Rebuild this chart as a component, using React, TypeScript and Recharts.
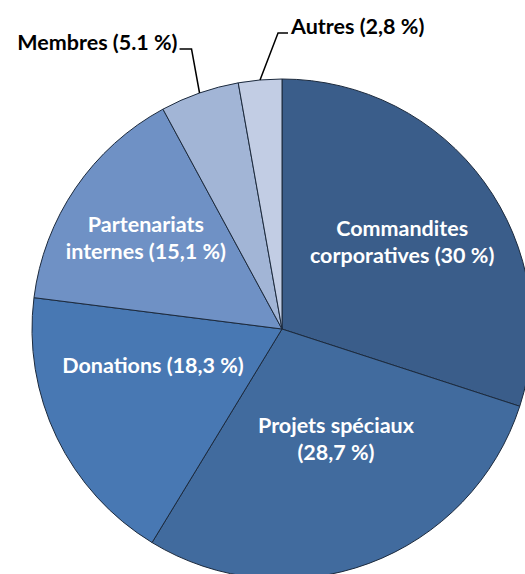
import { PieChart, Pie, Cell } from 'recharts'

const categories = ['Commandites corporatives', 'Projets spéciaux', 'Donations', 'Partenariats internes', 'Membres', 'Autres']
const shares = [30, 28.7, 18.3, 15.1, 5.1, 2.8]
const labelLines = [
  ['Commandites', 'corporatives (30 %)'],
  ['Projets spéciaux', '(28,7 %)'],
  ['Donations (18,3 %)'],
  ['Partenariats', 'internes (15,1 %)'],
  ['Membres (5.1 %)'],
  ['Autres (2,8 %)'],
]

const COLORS = ['#3a5d8a', '#416b9e', '#4878b3', '#6f91c5', '#a2b5d6', '#c2cde4']
const FONT = 'Lato, "Open Sans", sans-serif'
const RAD = Math.PI / 180

// inside labels: radius fraction + angle nudge (deg); outside: elbow offset + tail length
const inside: Record<number, { rf: number; da: number }> = {
  0: { rf: 0.594, da: 0 },
  1: { rf: 0.49, da: 5.8 },
  2: { rf: 0.536, da: -10 },
  3: { rf: 0.656, da: 0.5 },
}
const outside: Record<number, { ex: number; ey: number; tail: number }> = {
  4: { ex: -8, ey: -44, tail: -12 },
  5: { ex: 18, ey: -47, tail: 10 },
}

const data = categories.map((name, i) => ({ name, value: shares[i] }))

function renderLabel(props: any) {
  const { cx, cy, midAngle, outerRadius, index } = props
  const lines = labelLines[index]
  if (inside[index]) {
    const { rf, da } = inside[index]
    const a = (midAngle + da) * RAD
    const r = outerRadius * rf
    const x = cx + r * Math.cos(a)
    const yc = cy - r * Math.sin(a)
    const lh = 27
    const y0 = yc - ((lines.length - 1) * lh) / 2 + 7.5
    return (
      <text key={index} x={x} y={y0} textAnchor="middle" fill="#fff" fontFamily={FONT} fontWeight={700} fontSize={21.5}>
        {lines.map((l, k) => (
          <tspan key={k} x={x} y={y0 + k * lh}>{l}</tspan>
        ))}
      </text>
    )
  }
  const o = outside[index]
  const sx = cx + outerRadius * Math.cos(midAngle * RAD)
  const sy = cy - outerRadius * Math.sin(midAngle * RAD)
  const ex = sx + o.ex
  const ey = sy + o.ey
  const tx = ex + o.tail
  const right = o.tail > 0
  return (
    <g key={index}>
      <polyline points={`${sx},${sy} ${ex},${ey} ${tx},${ey}`} fill="none" stroke="#000" strokeWidth={1.5} />
      <text x={right ? tx + 3 : tx - 2} y={ey + 1} textAnchor={right ? 'start' : 'end'} fill="#000" fontFamily={FONT} fontWeight={700} fontSize={21.5}>
        {lines[0]}
      </text>
    </g>
  )
}

export default function App() {
  return (
    <div style={{ position: 'absolute', left: 0, top: 0, width: 525, height: 574, background: '#fff' }}>
      <PieChart width={525} height={574} margin={{ top: 0, right: 0, bottom: 0, left: 0 }}>
        <Pie
          data={data}
          dataKey="value"
          nameKey="name"
          cx={282}
          cy={329}
          outerRadius={250}
          startAngle={90}
          endAngle={-270}
          stroke="#1c2a3d"
          strokeWidth={1}
          label={renderLabel}
          labelLine={false}
          isAnimationActive={false}
        >
          {data.map((d, i) => (
            <Cell key={d.name} fill={COLORS[i]} />
          ))}
        </Pie>
      </PieChart>
    </div>
  )
}
